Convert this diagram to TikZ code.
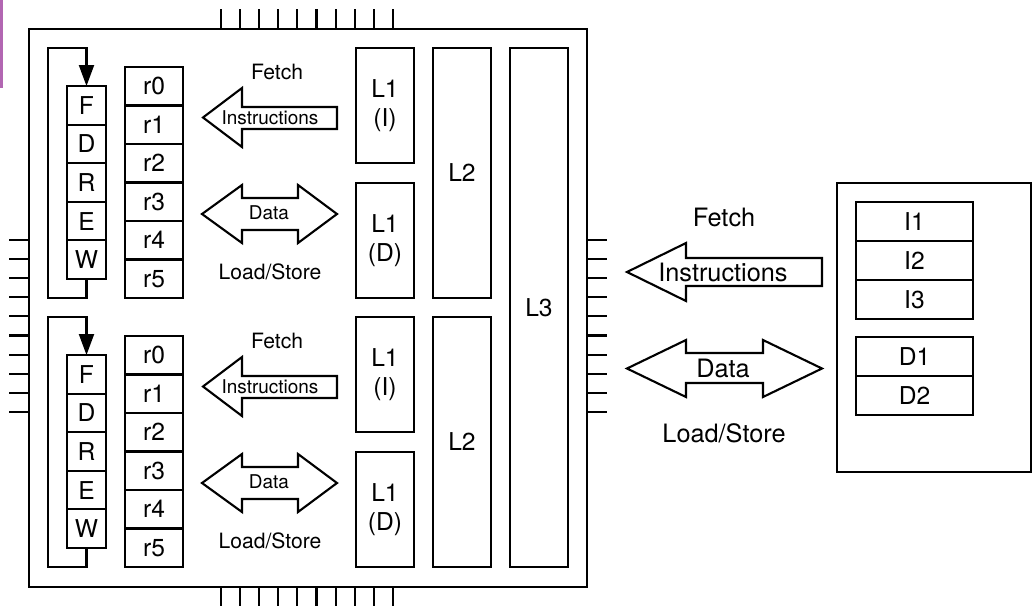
\documentclass[tikz,border=0pt]{standalone}
\usepackage{fontspec}
\setmainfont{TeX Gyre Heros}
\usetikzlibrary{positioning,arrows.meta}

\begin{document}
\begin{tikzpicture}[
    x=0.02cm, y=-0.02cm,
    line width=1.2pt,
    font=\fontsize{14}{16.5}\selectfont,
    stage/.style={
        draw,
        outer sep=0pt,
        inner sep=0pt,
        minimum width=0.78cm,
        minimum height=0.772cm
    },
    reg/.style={
        draw,
        outer sep=0pt,
        inner sep=0pt,
        minimum width=1.16cm,
        minimum height=0.77cm
    },
    memcell/.style={
        draw,
        outer sep=0pt,
        inner sep=0pt,
        minimum width=2.34cm,
        minimum height=0.78cm
    },
    cache/.style={
        draw,
        outer sep=0pt,
        inner sep=0pt,
        align=center,
        anchor=north west,
        minimum width=1.16cm
    },
    flow/.style={line join=miter},
    loop/.style={-{Triangle[length=0.42cm,width=0.3cm]}},
    note/.style={font=\fontsize{12}{14}\selectfont},
    inlabel/.style={font=\fontsize{10.8}{12}\selectfont},
    bignote/.style={font=\fontsize{14.4}{17}\selectfont}
]
\useasboundingbox (0,0) rectangle (1036,606);

\fill[violet!60] (0,0) rectangle (3,88);

% chip outline and pins
\node[draw, outer sep=0pt, minimum size=11.16cm, anchor=north west] (chip) at (29,29) {};
\foreach \i in {0,...,9} {
    \draw (221+19.1*\i,9) -- (221+19.1*\i,29);
    \draw (221+19.1*\i,587) -- (221+19.1*\i,606);
    \draw (9,240+19.1*\i) -- (29,240+19.1*\i);
    \draw (587,240+19.1*\i) -- (607,240+19.1*\i);
}

% first core
\node[stage, anchor=north west] (fa) at (67,86) {F};
\node[stage, below=0pt of fa] (da) {D};
\node[stage, below=0pt of da] (ra) {R};
\node[stage, below=0pt of ra] (ea) {E};
\node[stage, below=0pt of ea] (wa) {W};
\draw[loop] (wa.south) -- ++(0,19) -| (48,48) -| (fa.north);

\node[reg, anchor=north west] (ra0) at (125,67) {r0};
\node[reg, below=0pt of ra0] (ra1) {r1};
\node[reg, below=0pt of ra1] (ra2) {r2};
\node[reg, below=0pt of ra2] (ra3) {r3};
\node[reg, below=0pt of ra3] (ra4) {r4};
\node[reg, below=0pt of ra4] (ra5) {r5};

\node[cache, minimum height=2.3cm] (l1ia) at (356,48) {L1\\(I)};
\node[cache, minimum height=2.3cm] (l1da) at (356,183) {L1\\(D)};
\node[cache, minimum height=5cm] (l2a) at (433,48) {L2};

\draw[flow] (203,117.5) -- (242,88) -- (242,107) -- (337,107) -- (337,129)
    -- (242,129) -- (242,147) -- cycle;
\node[inlabel] (insa) at (270,118) {Instructions};
\node[note] (fetcha) at (277,72) {Fetch};
\draw[flow] (202,214) -- (242,185) -- (242,198) -- (298,198) -- (298,185)
    -- (337,214) -- (298,243) -- (298,230) -- (242,230) -- (242,243) -- cycle;
\node[inlabel] (dataa) at (269,213) {Data};
\node[note] (lsa) at (270,272) {Load/Store};

% second core
\node[stage, anchor=north west] (fb) at (67,355) {F};
\node[stage, below=0pt of fb] (db) {D};
\node[stage, below=0pt of db] (rb) {R};
\node[stage, below=0pt of rb] (eb) {E};
\node[stage, below=0pt of eb] (wb) {W};
\draw[loop] (wb.south) -- ++(0,19) -| (48,317) -| (fb.north);

\node[reg, anchor=north west] (rb0) at (125,336) {r0};
\node[reg, below=0pt of rb0] (rb1) {r1};
\node[reg, below=0pt of rb1] (rb2) {r2};
\node[reg, below=0pt of rb2] (rb3) {r3};
\node[reg, below=0pt of rb3] (rb4) {r4};
\node[reg, below=0pt of rb4] (rb5) {r5};

\node[cache, minimum height=2.3cm] (l1ib) at (356,317) {L1\\(I)};
\node[cache, minimum height=2.3cm] (l1db) at (356,452) {L1\\(D)};
\node[cache, minimum height=5cm] (l2b) at (433,317) {L2};

\draw[flow] (203,386.5) -- (242,357) -- (242,376) -- (337,376) -- (337,398)
    -- (242,398) -- (242,416) -- cycle;
\node[inlabel] (insb) at (270,387) {Instructions};
\node[note] (fetchb) at (277,341) {Fetch};
\draw[flow] (202,483) -- (242,454) -- (242,467) -- (298,467) -- (298,454)
    -- (337,483) -- (298,512) -- (298,499) -- (242,499) -- (242,512) -- cycle;
\node[inlabel] (datab) at (269,482) {Data};
\node[note] (lsb) at (270,541) {Load/Store};

% shared L3
\node[cache, minimum height=10.38cm] (l3) at (510,48) {L3};

% memory side
\draw[flow] (627,272) -- (686,243) -- (686,258) -- (822,258) -- (822,286)
    -- (686,286) -- (686,301) -- cycle;
\node[bignote] (insm) at (723,272) {Instructions};
\node[bignote] (fetchm) at (724,217) {Fetch};
\draw[flow] (627,368.5) -- (686,340) -- (686,353) -- (763,353) -- (763,340)
    -- (822,368.5) -- (763,397) -- (763,383) -- (686,383) -- (686,397) -- cycle;
\node[bignote] (datam) at (723,368) {Data};
\node[bignote] (lsm) at (724,433) {Load/Store};

\node[draw, outer sep=0pt, minimum width=3.88cm, minimum height=5.78cm,
    anchor=north west] (mem) at (837,183) {};
\node[memcell, anchor=north west] (i1) at (856,202) {I1};
\node[memcell, below=0pt of i1] (i2) {I2};
\node[memcell, below=0pt of i2] (i3) {I3};
\node[memcell, anchor=north west] (d1) at (856,337) {D1};
\node[memcell, below=0pt of d1] (d2) {D2};

\end{tikzpicture}
\end{document}
